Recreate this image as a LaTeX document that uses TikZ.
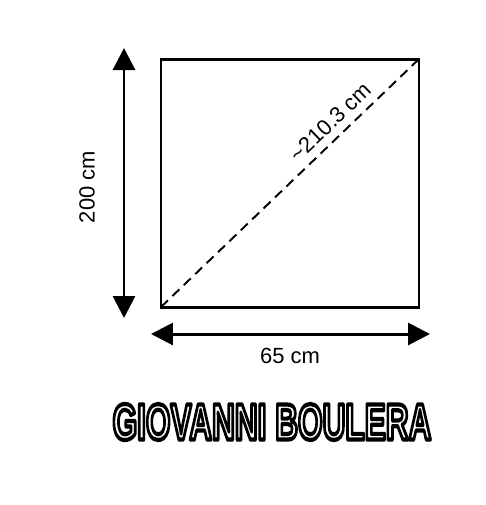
\documentclass[tikz,border=0pt]{standalone}
\usepackage{fontspec}
\setmainfont{Liberation Sans}
\usetikzlibrary{arrows.meta}
\definecolor{ink}{HTML}{000000}
\definecolor{paper}{HTML}{FFFFFF}
\tikzset{
  frame/.style={draw=ink, line width=1.7pt, line join=miter},
  dim/.style={draw=ink, line width=1.7pt,
    {Triangle[length=4.4mm,width=4.4mm]}-{Triangle[length=4.4mm,width=4.4mm]}},
  diag/.style={draw=ink, line width=1.1pt, dash pattern=on 5.5pt off 3.5pt},
  lab/.style={text=ink, font=\fontsize{12.5}{14}\selectfont, inner sep=0pt},
  title/.style={font=\fontsize{29}{32}\selectfont\bfseries, inner sep=0pt, text=paper},
}
% white letters with a black outline (fill, then stroke)
\newcommand{\titletext}{\special{pdf:literal direct 2 Tr 2.4 w 0 0 0 RG 1 j}%
  \scalebox{0.62}[1]{GIOVANNI BOULERA}%
  \special{pdf:literal direct 0 Tr}}

\begin{document}
\begin{tikzpicture}[x=0.02cm, y=-0.02cm]
  \useasboundingbox (0,0) rectangle (485,505);
  % square and its corners
  \coordinate (A) at (161,307);
  \coordinate (B) at (419,307);
  \coordinate (C) at (419,59);
  \coordinate (D) at (161,59);
  \draw[frame] (A)--(B)--(C)--(D)--cycle;
  \draw[diag] (A)--(C) node[lab, pos=0.7, sloped, above=4pt] (diaglab) {\textasciitilde210.3 cm};
  % dimension arrows
  \coordinate (vtop) at (124,48);
  \coordinate (vbot) at (124,318);
  \draw[dim] (vtop)--(vbot);
  \node[lab, rotate=90] (hlab) at (87,187) {200 cm};
  \coordinate (hleft) at (151,334);
  \coordinate (hright) at (430,334);
  \draw[dim] (hleft)--(hright);
  \node[lab] (wlab) at (290,356) {65 cm};
  % title
  \node[title] (titlenode) at (272,422) {\titletext};
\end{tikzpicture}
\end{document}
